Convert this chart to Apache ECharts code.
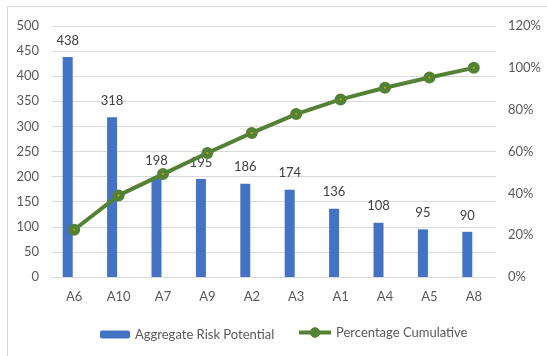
<!DOCTYPE html>
<html><head><meta charset="utf-8">
<script src="https://cdn.jsdelivr.net/npm/echarts@6/dist/echarts.min.js"></script>
<style>html,body{margin:0;padding:0;background:#fff}#c{width:547px;height:356px}</style>
</head><body><div id="c"></div>
<script>
const categories = ['A6','A10','A7','A9','A2','A3','A1','A4','A5','A8'];
const riskValues = [438,318,198,195,186,174,136,108,95,90];
const cumulativePct = [22.6,39.0,49.2,59.3,68.9,77.9,84.9,90.5,95.4,100];
const leftTicks = {min:0,max:500,interval:50};
const rightTicks = {min:0,max:120,interval:20};

const FONT = 'Lato';
const FS = 13;
const chart = echarts.init(document.getElementById('c'), null, {renderer:'canvas'});
chart.setOption({
  animation:false,
  backgroundColor:'#ffffff',
  textStyle:{fontFamily:FONT},
  graphic:[{type:'rect',shape:{x:7.5,y:6.5,width:600,height:400},style:{fill:'none',stroke:'#d9d9d9',lineWidth:1},silent:true,z:-1}],
  grid:{left:52,right:51,top:26,height:251},
  legend:[{
    left:95, top:323, itemWidth:30, itemHeight:8, padding:5,
    textStyle:{fontFamily:FONT,fontSize:FS,color:'#595959'},
    data:['Aggregate Risk Potential']
  },{
    left:292, top:321, itemWidth:32, itemHeight:12, padding:5,
    textStyle:{fontFamily:FONT,fontSize:FS,color:'#595959'},
    data:[{name:'Percentage Cumulative',itemStyle:{color:'#548235',borderColor:'#548235',borderWidth:1},lineStyle:{color:'#548235',width:4}}]
  }],
  xAxis:{
    type:'category', data:categories,
    axisLine:{lineStyle:{color:'#d9d9d9'}},
    axisTick:{show:false},
    axisLabel:{color:'#595959',fontSize:FS,fontFamily:FONT,margin:13}
  },
  yAxis:[
    {type:'value',min:leftTicks.min,max:leftTicks.max,interval:leftTicks.interval,
     axisLine:{show:false},axisTick:{show:false},
     axisLabel:{color:'#595959',fontSize:FS,fontFamily:FONT,margin:13},
     splitLine:{lineStyle:{color:'#d9d9d9'}}},
    {type:'value',min:rightTicks.min,max:rightTicks.max,interval:rightTicks.interval,position:'right',
     axisLine:{show:false},axisTick:{show:false},
     axisLabel:{color:'#595959',fontSize:FS,fontFamily:FONT,margin:12,formatter:'{value}%'},
     splitLine:{show:false}}
  ],
  series:[
    {name:'Aggregate Risk Potential',type:'bar',data:riskValues,barWidth:10,barGap:'30%',
     itemStyle:{color:'#4472c4'},
     label:{show:true,position:'top',distance:10,color:'#404040',fontSize:FS,fontFamily:FONT}},
    {name:'pad',type:'bar',data:[],barWidth:10,silent:true,itemStyle:{color:'rgba(0,0,0,0)'}},
    {name:'Percentage Cumulative',type:'line',yAxisIndex:1,data:cumulativePct,
     lineStyle:{color:'#548235',width:4},
     symbol:'circle',symbolSize:7,
     itemStyle:{color:'#c9b000',borderColor:'#548235',borderWidth:5},
     z:5}
  ]
});
</script></body></html>
